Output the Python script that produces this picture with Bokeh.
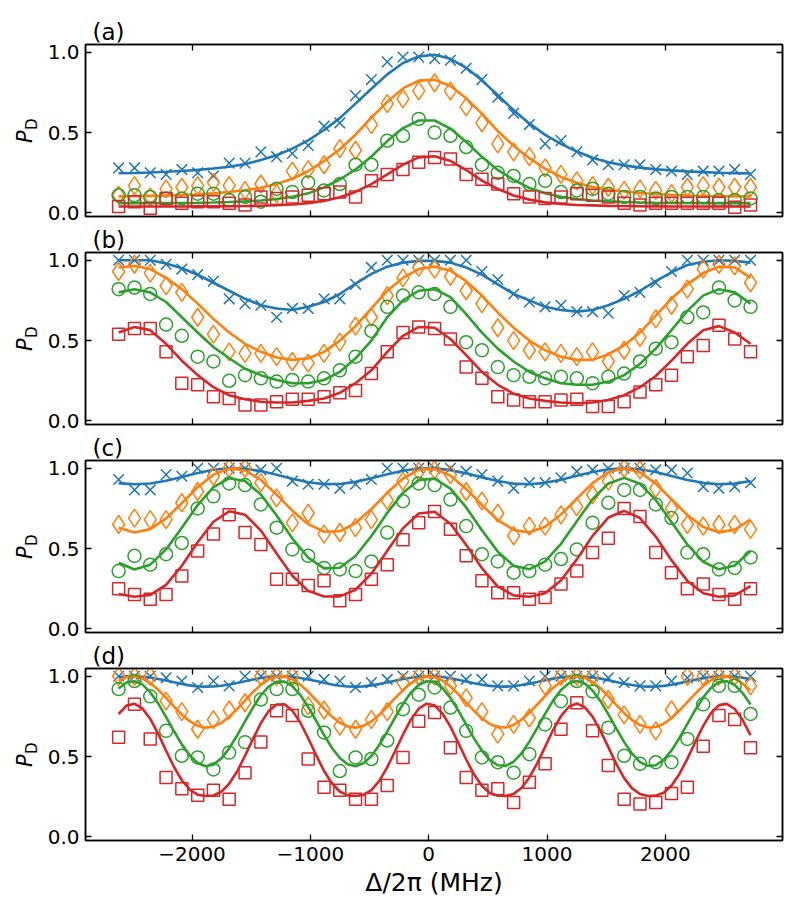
from math import pi
from bokeh.plotting import figure
from bokeh.models import Range1d, LinearAxis, FixedTicker
from bokeh.core.properties import value
from bokeh.layouts import column, row
from bokeh.embed import file_html
from bokeh.resources import INLINE

# detuning grid of the measured points (MHz)
x = [-2620, -2486, -2353, -2219, -2086, -1952, -1819, -1686, -1552, -1418,
     -1285, -1152, -1018, -884, -751, -618, -484, -350, -217, -84,
     50, 184, 317, 450, 584, 718, 851, 984, 1118, 1252,
     1385, 1518, 1652, 1786, 1919, 2052, 2186, 2320, 2453, 2586, 2720]
# finer detuning grid for the fit curves of panel (d)
x_fine = [-2620, -2553, -2487, -2420, -2353, -2286, -2220, -2153, -2086, -2019,
          -1953, -1886, -1819, -1752, -1686, -1619, -1552, -1485, -1419, -1352,
          -1285, -1218, -1152, -1085, -1018, -951, -885, -818, -751, -684,
          -618, -551, -484, -417, -351, -284, -217, -150, -84, -17,
          50, 117, 184, 250, 317, 384, 451, 517, 584, 651,
          718, 784, 851, 918, 985, 1051, 1118, 1185, 1252, 1318,
          1385, 1452, 1519, 1585, 1652, 1719, 1786, 1852, 1919, 1986,
          2053, 2119, 2186, 2253, 2320, 2386, 2453, 2520, 2587, 2653, 2720]

# ---------------- panel (a) ----------------
a_blue = [0.28, 0.28, 0.25, 0.24, 0.27, 0.25, 0.23, 0.31, 0.31, 0.38, 0.35, 0.37, 0.42, 0.54, 0.56, 0.73, 0.83, 0.94, 0.97, 0.97,
          0.96, 0.95, 0.90, 0.83, 0.72, 0.62, 0.55, 0.43, 0.45, 0.38, 0.33, 0.30, 0.30, 0.30, 0.27, 0.26, 0.24, 0.26, 0.26, 0.27, 0.24]
a_orange = [0.11, 0.17, 0.10, 0.15, 0.16, 0.17, 0.19, 0.17, 0.14, 0.18, 0.12, 0.26, 0.27, 0.30, 0.40, 0.39, 0.55, 0.68, 0.71, 0.76,
            0.81, 0.76, 0.66, 0.56, 0.43, 0.38, 0.35, 0.28, 0.24, 0.20, 0.17, 0.16, 0.14, 0.15, 0.14, 0.12, 0.16, 0.17, 0.16, 0.16, 0.16]
a_green = [0.11, 0.11, 0.10, 0.09, 0.09, 0.12, 0.12, 0.08, 0.10, 0.07, 0.15, 0.13, 0.19, 0.14, 0.18, 0.30, 0.30, 0.45, 0.48, 0.585,
           0.50, 0.48, 0.41, 0.30, 0.25, 0.23, 0.18, 0.20, 0.13, 0.14, 0.15, 0.12, 0.10, 0.10, 0.09, 0.10, 0.10, 0.10, 0.08, 0.08, 0.09]
a_red = [0.04, 0.07, 0.03, 0.09, 0.06, 0.07, 0.07, 0.06, 0.05, 0.10, 0.09, 0.10, 0.11, 0.12, 0.13, 0.10, 0.20, 0.24, 0.27, 0.315,
         0.345, 0.335, 0.24, 0.21, 0.18, 0.12, 0.10, 0.09, 0.10, 0.12, 0.11, 0.10, 0.06, 0.05, 0.06, 0.06, 0.06, 0.06, 0.06, 0.035, 0.05]
fa_blue = [0.247, 0.249, 0.252, 0.256, 0.261, 0.268, 0.277, 0.288, 0.304, 0.329, 0.359, 0.400, 0.452, 0.516, 0.590, 0.680, 0.773, 0.862, 0.933, 0.974,
           0.984, 0.959, 0.903, 0.825, 0.732, 0.639, 0.557, 0.486, 0.430, 0.382, 0.344, 0.315, 0.296, 0.282, 0.272, 0.265, 0.259, 0.254, 0.250, 0.248, 0.246]
fa_orange = [0.103, 0.104, 0.106, 0.108, 0.112, 0.116, 0.122, 0.130, 0.141, 0.157, 0.180, 0.213, 0.261, 0.323, 0.396, 0.487, 0.593, 0.691, 0.775, 0.823,
             0.828, 0.790, 0.713, 0.618, 0.509, 0.418, 0.341, 0.275, 0.224, 0.188, 0.162, 0.145, 0.133, 0.124, 0.118, 0.113, 0.109, 0.107, 0.104, 0.103, 0.102]
fa_green = [0.061, 0.061, 0.061, 0.062, 0.062, 0.063, 0.065, 0.068, 0.072, 0.078, 0.087, 0.101, 0.122, 0.159, 0.208, 0.271, 0.351, 0.447, 0.528, 0.575,
            0.575, 0.525, 0.442, 0.349, 0.268, 0.206, 0.156, 0.122, 0.100, 0.087, 0.078, 0.072, 0.068, 0.065, 0.063, 0.062, 0.062, 0.061, 0.061, 0.061, 0.061]
fa_red = [0.040, 0.040, 0.040, 0.040, 0.040, 0.041, 0.041, 0.042, 0.043, 0.045, 0.049, 0.053, 0.061, 0.075, 0.098, 0.131, 0.179, 0.240, 0.301, 0.346,
          0.353, 0.324, 0.267, 0.201, 0.149, 0.109, 0.083, 0.066, 0.056, 0.050, 0.047, 0.044, 0.043, 0.042, 0.041, 0.040, 0.040, 0.040, 0.040, 0.040, 0.040]

# ---------------- panel (b) ----------------
b_blue = [1.0, 1.0, 1.0, 0.975, 0.945, 0.91, 0.87, 0.76, 0.73, 0.72, 0.645, 0.70, 0.70, 0.76, 0.76, 0.85, 0.955, 1.0, 1.0, 1.0,
          1.0, 1.0, 1.0, 0.93, 0.88, 0.79, 0.74, 0.71, 0.72, 0.68, 0.68, 0.67, 0.78, 0.80, 0.86, 0.93, 1.0, 1.0, 1.0, 1.0, 1.0]
b_orange = [0.93, 0.975, 0.92, 0.84, 0.80, 0.645, 0.54, 0.43, 0.42, 0.42, 0.40, 0.37, 0.36, 0.42, 0.49, 0.59, 0.645, 0.78, 0.89, 0.955,
            0.945, 0.90, 0.81, 0.73, 0.58, 0.50, 0.44, 0.43, 0.42, 0.40, 0.43, 0.37, 0.44, 0.52, 0.635, 0.72, 0.82, 0.945, 0.975, 0.965, 0.86]
b_green = [0.82, 0.83, 0.79, 0.60, 0.53, 0.40, 0.37, 0.25, 0.285, 0.265, 0.245, 0.255, 0.245, 0.265, 0.315, 0.40, 0.56, 0.71, 0.78, 0.80,
           0.79, 0.71, 0.49, 0.44, 0.335, 0.285, 0.275, 0.265, 0.275, 0.265, 0.235, 0.275, 0.295, 0.37, 0.45, 0.49, 0.645, 0.675, 0.83, 0.75, 0.71]
b_red = [0.54, 0.575, 0.575, 0.43, 0.235, 0.225, 0.15, 0.14, 0.10, 0.10, 0.12, 0.135, 0.135, 0.15, 0.175, 0.19, 0.295, 0.43, 0.55, 0.585,
         0.575, 0.51, 0.335, 0.265, 0.15, 0.13, 0.12, 0.12, 0.13, 0.135, 0.09, 0.09, 0.12, 0.18, 0.225, 0.285, 0.40, 0.47, 0.595, 0.51, 0.43]
fb_blue = [1.0, 1.0, 1.0, 0.98, 0.95, 0.91, 0.86, 0.81, 0.76, 0.72, 0.70, 0.69, 0.71, 0.74, 0.79, 0.855, 0.915, 0.96, 0.985, 0.996,
           0.996, 0.985, 0.955, 0.91, 0.85, 0.79, 0.75, 0.71, 0.69, 0.68, 0.69, 0.72, 0.76, 0.81, 0.87, 0.925, 0.97, 0.99, 1.0, 0.996, 0.985]
fb_orange = [0.955, 0.965, 0.945, 0.89, 0.82, 0.73, 0.635, 0.55, 0.48, 0.43, 0.395, 0.38, 0.39, 0.43, 0.50, 0.59, 0.70, 0.81, 0.89, 0.945,
             0.96, 0.935, 0.87, 0.78, 0.675, 0.58, 0.50, 0.44, 0.40, 0.38, 0.38, 0.415, 0.47, 0.55, 0.655, 0.76, 0.85, 0.92, 0.96, 0.955, 0.89]
fb_green = [0.80, 0.82, 0.80, 0.74, 0.645, 0.55, 0.46, 0.39, 0.325, 0.285, 0.255, 0.235, 0.235, 0.255, 0.305, 0.39, 0.50, 0.645, 0.75, 0.81,
            0.82, 0.77, 0.665, 0.55, 0.45, 0.37, 0.305, 0.265, 0.235, 0.225, 0.225, 0.245, 0.285, 0.355, 0.45, 0.565, 0.685, 0.78, 0.82, 0.80, 0.73]
fb_red = [0.55, 0.585, 0.565, 0.48, 0.375, 0.285, 0.21, 0.16, 0.135, 0.12, 0.115, 0.115, 0.125, 0.14, 0.175, 0.235, 0.315, 0.43, 0.53, 0.585,
          0.58, 0.51, 0.41, 0.305, 0.225, 0.17, 0.14, 0.125, 0.115, 0.11, 0.115, 0.13, 0.16, 0.21, 0.28, 0.375, 0.48, 0.565, 0.59, 0.55, 0.48]

# ---------------- panel (c) ----------------
c_blue = [0.93, 0.865, 0.865, 0.96, 0.95, 1.0, 1.0, 1.0, 1.0, 0.99, 1.0, 0.92, 0.90, 0.90, 0.875, 0.90, 0.93, 1.0, 1.0, 1.0,
          1.0, 1.0, 0.98, 0.96, 0.92, 0.875, 0.91, 0.91, 0.94, 0.98, 0.99, 1.0, 1.0, 1.0, 0.99, 0.99, 0.97, 0.885, 0.875, 0.885, 0.91]
c_orange = [0.65, 0.69, 0.68, 0.68, 0.785, 0.855, 0.95, 1.0, 1.0, 0.91, 0.815, 0.66, 0.72, 0.59, 0.60, 0.63, 0.68, 0.80, 0.92, 0.98,
            0.99, 0.96, 0.855, 0.795, 0.72, 0.58, 0.64, 0.64, 0.71, 0.76, 0.835, 0.92, 1.0, 0.99, 0.875, 0.75, 0.65, 0.64, 0.65, 0.65, 0.62]
c_green = [0.36, 0.455, 0.40, 0.465, 0.535, 0.75, 0.825, 0.905, 0.895, 0.775, 0.63, 0.495, 0.455, 0.38, 0.37, 0.36, 0.42, 0.60, 0.795, 0.905,
           0.895, 0.805, 0.64, 0.465, 0.42, 0.35, 0.36, 0.40, 0.435, 0.495, 0.66, 0.785, 0.865, 0.865, 0.775, 0.69, 0.475, 0.465, 0.37, 0.38, 0.445]
c_red = [0.25, 0.215, 0.185, 0.215, 0.33, 0.485, 0.59, 0.71, 0.60, 0.525, 0.31, 0.31, 0.27, 0.30, 0.175, 0.215, 0.31, 0.40, 0.555, 0.66,
         0.73, 0.62, 0.455, 0.30, 0.225, 0.225, 0.185, 0.195, 0.28, 0.36, 0.475, 0.565, 0.75, 0.70, 0.475, 0.35, 0.25, 0.28, 0.215, 0.185, 0.25]
fc_blue = [0.907, 0.900, 0.905, 0.922, 0.946, 0.970, 0.990, 1.000, 0.997, 0.982, 0.959, 0.934, 0.913, 0.901, 0.902, 0.915, 0.937, 0.962, 0.984, 0.998,
           0.999, 0.988, 0.968, 0.943, 0.920, 0.904, 0.900, 0.909, 0.928, 0.953, 0.977, 0.994, 1.000, 0.994, 0.976, 0.952, 0.927, 0.909, 0.900, 0.904, 0.920]
fc_orange = [0.630, 0.600, 0.621, 0.688, 0.782, 0.882, 0.960, 0.998, 0.986, 0.927, 0.836, 0.736, 0.652, 0.605, 0.608, 0.659, 0.746, 0.847, 0.936, 0.990,
             0.996, 0.953, 0.871, 0.771, 0.678, 0.616, 0.601, 0.636, 0.712, 0.811, 0.907, 0.975, 1.000, 0.974, 0.904, 0.807, 0.709, 0.634, 0.601, 0.618, 0.681]
fc_green = [0.412, 0.370, 0.400, 0.495, 0.630, 0.771, 0.883, 0.937, 0.920, 0.836, 0.706, 0.563, 0.444, 0.377, 0.381, 0.454, 0.578, 0.722, 0.848, 0.926,
            0.935, 0.873, 0.756, 0.614, 0.481, 0.393, 0.371, 0.421, 0.530, 0.670, 0.807, 0.905, 0.940, 0.903, 0.803, 0.666, 0.526, 0.418, 0.371, 0.395, 0.485]
fc_red = [0.218, 0.200, 0.212, 0.274, 0.393, 0.539, 0.667, 0.732, 0.711, 0.612, 0.469, 0.331, 0.237, 0.202, 0.203, 0.244, 0.344, 0.486, 0.626, 0.718,
          0.729, 0.655, 0.523, 0.378, 0.264, 0.209, 0.200, 0.223, 0.302, 0.433, 0.579, 0.693, 0.735, 0.690, 0.575, 0.428, 0.299, 0.222, 0.200, 0.209, 0.267]

# ---------------- panel (d) ----------------
d_blue = [1.0, 1.0, 1.0, 0.99, 0.97, 0.93, 0.97, 0.94, 1.0, 1.0, 1.0, 1.0, 1.0, 0.98, 0.97, 0.93, 0.96, 0.98, 1.0, 1.0,
          1.0, 1.0, 0.98, 0.98, 0.94, 0.94, 0.97, 1.0, 1.0, 1.0, 1.0, 0.99, 0.96, 0.94, 0.94, 0.97, 0.99, 1.0, 1.0, 1.0, 1.0]
d_orange = [1.0, 1.0, 1.0, 0.845, 0.78, 0.67, 0.73, 0.79, 0.835, 1.0, 1.0, 1.0, 0.815, 0.79, 0.69, 0.67, 0.73, 0.78, 0.96, 1.0,
            1.0, 0.94, 0.865, 0.78, 0.64, 0.70, 0.74, 0.94, 1.0, 1.0, 1.0, 0.855, 0.76, 0.70, 0.66, 0.79, 1.0, 1.0, 1.0, 1.0, 0.94]
d_green = [0.92, 0.97, 0.875, 0.66, 0.505, 0.495, 0.42, 0.525, 0.59, 0.855, 0.92, 0.92, 0.785, 0.65, 0.41, 0.495, 0.485, 0.60, 0.795, 0.885,
           0.93, 0.805, 0.66, 0.495, 0.465, 0.40, 0.515, 0.70, 0.845, 0.97, 0.905, 0.68, 0.505, 0.455, 0.465, 0.465, 0.61, 0.825, 0.94, 0.94, 0.765]
d_red = [0.62, 0.825, 0.61, 0.37, 0.30, 0.26, 0.29, 0.235, 0.40, 0.59, 0.785, 0.755, 0.485, 0.31, 0.29, 0.235, 0.235, 0.32, 0.495, 0.72,
         0.775, 0.555, 0.37, 0.29, 0.30, 0.215, 0.34, 0.455, 0.67, 0.835, 0.66, 0.445, 0.235, 0.205, 0.215, 0.27, 0.31, 0.565, 0.755, 0.73, 0.555]
fd_blue = [0.994, 0.999, 1.000, 0.997, 0.992, 0.983, 0.973, 0.962, 0.952, 0.943,
           0.937, 0.935, 0.936, 0.941, 0.949, 0.958, 0.969, 0.980, 0.989, 0.996,
           1.000, 1.000, 0.996, 0.989, 0.980, 0.970, 0.959, 0.949, 0.941, 0.936,
           0.935, 0.937, 0.943, 0.951, 0.961, 0.972, 0.983, 0.991, 0.997, 1.000,
           0.999, 0.995, 0.987, 0.978, 0.967, 0.956, 0.947, 0.940, 0.936, 0.935,
           0.938, 0.945, 0.954, 0.964, 0.975, 0.985, 0.993, 0.998, 1.000, 0.998,
           0.993, 0.985, 0.975, 0.964, 0.953, 0.945, 0.938, 0.935, 0.936, 0.940,
           0.947, 0.957, 0.967, 0.978, 0.988, 0.995, 0.999, 1.000, 0.997, 0.991, 0.982]
fd_orange = [0.972, 0.994, 1.000, 0.987, 0.958, 0.916, 0.866, 0.812, 0.762, 0.720,
             0.692, 0.680, 0.686, 0.710, 0.747, 0.795, 0.848, 0.901, 0.946, 0.980,
             0.998, 0.998, 0.981, 0.948, 0.903, 0.851, 0.798, 0.749, 0.711, 0.687,
             0.680, 0.691, 0.719, 0.760, 0.810, 0.863, 0.914, 0.956, 0.986, 0.999,
             0.995, 0.973, 0.937, 0.889, 0.836, 0.784, 0.738, 0.703, 0.683, 0.681,
             0.697, 0.729, 0.773, 0.824, 0.877, 0.927, 0.966, 0.991, 1.000, 0.991,
             0.965, 0.925, 0.875, 0.822, 0.770, 0.727, 0.696, 0.681, 0.684, 0.704,
             0.740, 0.786, 0.839, 0.892, 0.939, 0.975, 0.996, 0.999, 0.985, 0.955, 0.912]
fd_green = [0.923, 0.961, 0.969, 0.949, 0.901, 0.831, 0.747, 0.659, 0.576, 0.507,
            0.460, 0.440, 0.450, 0.489, 0.551, 0.631, 0.719, 0.805, 0.880, 0.936,
            0.966, 0.967, 0.938, 0.884, 0.809, 0.723, 0.635, 0.555, 0.491, 0.452,
            0.440, 0.458, 0.504, 0.572, 0.655, 0.743, 0.827, 0.898, 0.947, 0.969,
            0.962, 0.926, 0.865, 0.787, 0.699, 0.612, 0.536, 0.478, 0.446, 0.442,
            0.468, 0.520, 0.593, 0.679, 0.767, 0.848, 0.914, 0.956, 0.970, 0.955,
            0.911, 0.845, 0.763, 0.675, 0.590, 0.518, 0.466, 0.442, 0.446, 0.480,
            0.539, 0.616, 0.703, 0.790, 0.868, 0.928, 0.963, 0.969, 0.945, 0.895, 0.824]
fd_red = [0.765, 0.817, 0.829, 0.800, 0.735, 0.643, 0.538, 0.437, 0.353, 0.294,
          0.263, 0.255, 0.258, 0.281, 0.331, 0.407, 0.505, 0.610, 0.707, 0.783,
          0.824, 0.825, 0.786, 0.712, 0.614, 0.510, 0.412, 0.334, 0.283, 0.259,
          0.255, 0.262, 0.292, 0.349, 0.433, 0.533, 0.637, 0.731, 0.798, 0.829,
          0.819, 0.768, 0.686, 0.586, 0.482, 0.388, 0.317, 0.274, 0.257, 0.255,
          0.268, 0.305, 0.370, 0.459, 0.562, 0.665, 0.752, 0.810, 0.830, 0.808,
          0.749, 0.660, 0.557, 0.455, 0.366, 0.302, 0.267, 0.255, 0.257, 0.275,
          0.320, 0.392, 0.486, 0.591, 0.691, 0.771, 0.820, 0.828, 0.796, 0.727, 0.633]

x_ticks = [-2000, -1000, 0, 1000, 2000]
x_tick_labels = ["\u22122000", "\u22121000", "0", "1000", "2000"]
y_ticks = [0.0, 0.5, 1.0]
y_tick_labels = ["0.0", "0.5", "1.0"]
panel_tags = ["(a)", "(b)", "(c)", "(d)"]
x_label = "\u0394/2\u03c0 (MHz)"
y_label_main = "P"
y_label_sub = "D"

COLORS = ["#1f77b4", "#ff7f0e", "#2ca02c", "#d62728"]
MARKERS = ["x", "diamond", "circle", "square"]
SIZES = [15, 18, 13, 12]
FONT = "DejaVu Sans"
Y_RANGE = (-0.022, 1.048)
FRAME_H = 172


def style_axis(ax, ticks, labels=None):
    ax.ticker = FixedTicker(ticks=ticks)
    ax.major_tick_in = 6
    ax.major_tick_out = 0
    ax.minor_tick_in = 0
    ax.minor_tick_out = 0
    ax.axis_line_width = 1.5
    ax.axis_line_color = "black"
    ax.major_tick_line_width = 1.3
    ax.major_tick_line_color = "black"
    if labels is None:
        ax.major_label_text_font_size = "0px"
        ax.major_label_standoff = 0
        ax.major_label_overrides = {t: "" for t in ticks}
    else:
        ax.major_label_text_font = FONT
        ax.major_label_text_font_size = "20px"
        ax.major_label_text_color = "black"
        ax.major_label_standoff = 6
        ax.major_label_overrides = {t: s for t, s in zip(ticks, labels)}


def make_ylabel(top, bottom):
    # narrow, axis-less strip that carries the rotated "P_D" label
    q = figure(frame_width=40, frame_height=FRAME_H,
               x_range=Range1d(0, 40), y_range=Range1d(*Y_RANGE),
               min_border_left=0, min_border_right=0,
               min_border_top=top, min_border_bottom=bottom,
               x_axis_location=None, y_axis_location=None,
               output_backend="svg", toolbar_location=None,
               background_fill_color="white", border_fill_color="white")
    q.grid.visible = False
    q.outline_line_color = None
    q.text(x=[24], y=[0.475], text=[y_label_main], angle=pi / 2,
           text_font=value(FONT), text_font_style="italic",
           text_font_size="21px", text_align="center",
           text_baseline="middle", text_color="black")
    q.text(x=[31], y=[0.552], text=[y_label_sub], angle=pi / 2,
           text_font=value(FONT), text_font_size="15px",
           text_align="center", text_baseline="middle", text_color="black")
    return q


def make_panel(tag, points, fit_x, fits, top, bottom, last):
    p = figure(frame_width=697, frame_height=FRAME_H,
               x_range=Range1d(-2900, 2990), y_range=Range1d(*Y_RANGE),
               min_border_left=45, min_border_right=20,
               min_border_top=top, min_border_bottom=bottom,
               output_backend="svg", toolbar_location=None, title=tag,
               background_fill_color="white", border_fill_color="white")
    p.grid.visible = False
    p.outline_line_color = "black"
    p.outline_line_width = 1.5
    p.title.text_font = FONT
    p.title.text_font_size = "23px"
    p.title.text_font_style = "normal"
    p.title.text_color = "black"
    p.title.offset = 7
    p.title.standoff = 0

    top_axis = LinearAxis()
    right_axis = LinearAxis()
    p.add_layout(top_axis, "above")
    p.add_layout(right_axis, "right")
    bottom_axis = p.below[0]
    left_axis = p.left[0]
    style_axis(top_axis, x_ticks)
    style_axis(right_axis, y_ticks)
    style_axis(left_axis, y_ticks, y_tick_labels)
    if last:
        style_axis(bottom_axis, x_ticks, x_tick_labels)
        bottom_axis.axis_label = x_label
        bottom_axis.axis_label_text_font = FONT
        bottom_axis.axis_label_text_font_size = "25px"
        bottom_axis.axis_label_text_font_style = "normal"
        bottom_axis.axis_label_text_color = "black"
        bottom_axis.axis_label_standoff = 4
    else:
        style_axis(bottom_axis, x_ticks)

    for ys, fy, col, mk, sz in zip(points, fits, COLORS, MARKERS, SIZES):
        p.scatter(x, ys, marker=mk, size=sz, fill_color=None,
                  line_color=col, line_width=1.5)
        p.line(fit_x, fy, line_color=col, line_width=2.6)
    return row(make_ylabel(top, bottom), p, spacing=0)


ra = make_panel(panel_tags[0], [a_blue, a_orange, a_green, a_red], x,
                [fa_blue, fa_orange, fa_green, fa_red], 44, 8, False)
rb = make_panel(panel_tags[1], [b_blue, b_orange, b_green, b_red], x,
                [fb_blue, fb_orange, fb_green, fb_red], 27, 8, False)
rc = make_panel(panel_tags[2], [c_blue, c_orange, c_green, c_red], x,
                [fc_blue, fc_orange, fc_green, fc_red], 27, 8, False)
rd = make_panel(panel_tags[3], [d_blue, d_orange, d_green, d_red], x_fine,
                [fd_blue, fd_orange, fd_green, fd_red], 27, 76, True)

layout = column(ra, rb, rc, rd, spacing=0)

with open("out.html", "w") as f:
    f.write(file_html(layout, INLINE))
